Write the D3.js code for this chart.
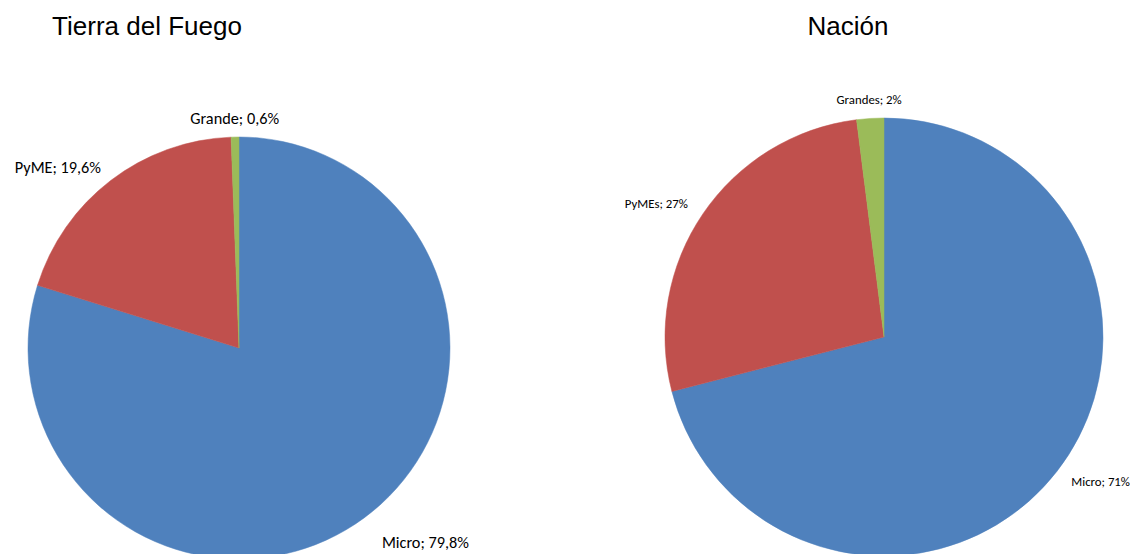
<!DOCTYPE html>
<html>
<head>
<meta charset="utf-8">
<script src="https://cdn.jsdelivr.net/npm/d3@7"></script>
<style>
  html, body { margin: 0; padding: 0; background: #fff; overflow: hidden; }
  svg { display: block; }
</style>
</head>
<body>
<svg id="chart" width="1130" height="554"></svg>
<script>
// Company size distribution: Tierra del Fuego vs. national total
const categories = ["Micro", "PyME", "Grande"];
const tdfLabels = ["Micro", "PyME", "Grande"];
const tdfValues = [79.8, 19.6, 0.6];
const tdfText = ["79,8%", "19,6%", "0,6%"];

const nacLabels = ["Micro", "PyMEs", "Grandes"];
const nacValues = [71, 27, 2];
const nacText = ["71%", "27%", "2%"];

const colors = d3.scaleOrdinal()
  .domain(categories)
  .range(["#4F81BD", "#C0504D", "#9BBB59"]);

const svg = d3.select("#chart");

const panels = [
  { title: "Tierra del Fuego", labels: tdfLabels, values: tdfValues, text: tdfText,
    cx: 239, cy: 348, r: 211, titleX: 147, fontSize: 16.3,
    gap: [30, 16, 18], anchorDy: [6, 5, 5] },
  { title: "Nación", labels: nacLabels, values: nacValues, text: nacText,
    cx: 884, cy: 337, r: 219, titleX: 848, fontSize: 12.8,
    gap: [18, 18, 18], anchorDy: [4, 4, 4] }
];

panels.forEach(p => {
  const data = p.values.map((v, i) => ({ key: categories[i], label: p.labels[i], text: p.text[i], value: v }));

  const pie = d3.pie().sort(null).value(d => d.value);
  const arcs = pie(data);
  const arc = d3.arc().innerRadius(0).outerRadius(p.r);

  const g = svg.append("g").attr("transform", `translate(${p.cx},${p.cy})`);

  g.selectAll("path.slice")
    .data(arcs)
    .join("path")
    .attr("class", "slice")
    .attr("d", arc)
    .attr("fill", d => colors(d.data.key))
    .attr("stroke", d => colors(d.data.key))
    .attr("stroke-width", 0.5);

  // data labels placed just outside each slice, at its mid-angle
  g.selectAll("text.lbl")
    .data(arcs)
    .join("text")
    .attr("class", "lbl")
    .each(function(d, i) {
      const a = (d.startAngle + d.endAngle) / 2;
      const rr = p.r + p.gap[i];
      const x = rr * Math.sin(a);
      const y = -rr * Math.cos(a);
      const s = Math.sin(a);
      const anchor = Math.abs(s) < 0.2 ? "middle" : (s > 0 ? "start" : "end");
      d3.select(this)
        .attr("x", x)
        .attr("y", y + p.anchorDy[i])
        .attr("text-anchor", anchor);
    })
    .attr("font-family", "Carlito, Lato, 'Open Sans', sans-serif")
    .attr("font-size", p.fontSize)
    .attr("fill", "#000")
    .text(d => `${d.data.label}; ${d.data.text}`);

  svg.append("text")
    .attr("x", p.titleX)
    .attr("y", 35)
    .attr("text-anchor", "middle")
    .attr("font-family", "Arial, 'Liberation Sans', sans-serif")
    .attr("font-size", 26)
    .attr("fill", "#000")
    .text(p.title);
});
</script>
</body>
</html>
